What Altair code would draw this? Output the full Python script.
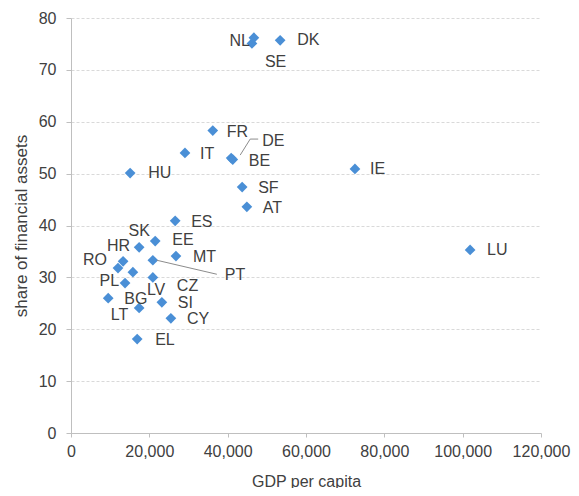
import altair as alt
import pandas as pd

# ---- data ----
countries = ["NL", "SE", "DK", "FR", "IT", "DE", "BE", "HU", "SF", "AT", "ES", "IE", "LU",
             "SK", "EE", "MT", "PT", "HR", "RO", "LV", "CZ", "PL", "BG", "SI", "LT", "CY", "EL"]
gdp_per_capita = [46200, 46700, 53400, 36200, 29100, 40900, 41300, 15100, 43700, 44900, 26600, 72500, 101900,
                  17400, 21500, 26800, 20900, 13300, 12000, 15800, 20900, 13800, 9500, 23200, 17400, 25500, 16900]
share_fin_assets = [75.1, 76.2, 75.7, 58.3, 54.0, 53.0, 52.7, 50.1, 47.4, 43.6, 40.9, 50.9, 35.3,
                    35.8, 37.0, 34.1, 33.3, 33.1, 31.8, 31.0, 30.0, 28.9, 26.0, 25.2, 24.1, 22.1, 18.1]
x_ticks = [0, 20000, 40000, 60000, 80000, 100000, 120000]
y_ticks = [0, 10, 20, 30, 40, 50, 60, 70, 80]

df = pd.DataFrame({"country": countries, "gdp": gdp_per_capita, "share": share_fin_assets})

# ---- label placement (style, pixel offsets) ----
DEFAULT = (16, 1, "left")
label_style = {
    "NL": (-2, -2, "right"), "SE": (11, 24, "left"), "DE": (31, -17, "left"),
    "PT": (72, 15, "left"), "SK": (0, -16, "center"), "HR": (7, -15, "right"),
    "RO": (-11, -8, "right"), "LV": (14, 18, "left"), "CZ": (24, 9, "left"),
    "PL": (-6, -2, "right"), "LT": (-11, 7, "right"), "FR": (14, 1, "left"),
    "IT": (15, 1, "left"), "HU": (18, 0, "left"), "EL": (18, 1, "left"),
    "DK": (17, 0, "left"), "IE": (15, 0, "left"), "LU": (17, 0, "left"),
    "MT": (17, 1, "left"), "EE": (17, -1, "left"),
}
leader_style = {
    "PT": [(4, 0, 64, 14)],
    "DE": [(9, -3, 19, -19), (19, -19, 27, -19)],
}

FONT = "Liberation Sans"
TXT = "#404040"

x_enc = alt.X("gdp:Q", scale=alt.Scale(domain=[0, 120000], nice=False, zero=True),
              axis=alt.Axis(values=x_ticks, format=",d", grid=False, title="GDP per capita",
                            labelFontSize=16, labelFont=FONT, labelColor=TXT,
                            titleFontSize=16, titleFont=FONT, titleColor=TXT, titleFontWeight="normal",
                            titlePadding=14, labelPadding=6, domainColor="#bfbfbf",
                            tickColor="#bfbfbf", tickSize=4, labelFlush=False))
y_enc = alt.Y("share:Q", scale=alt.Scale(domain=[0, 80], nice=False),
              axis=alt.Axis(values=y_ticks, grid=True, gridColor="#d9d9d9", gridDash=[3, 2],
                            title="share of financial assets",
                            labelFontSize=16, labelFont=FONT, labelColor=TXT,
                            titleFontSize=17, titleFont=FONT, titleColor=TXT, titleFontWeight="normal",
                            titlePadding=8, labelPadding=10, domainColor="#bfbfbf",
                            tickColor="#bfbfbf", tickSize=5))

base = alt.Chart(df)
layers = []

for c, segs in leader_style.items():
    for (xo, yo, x2o, y2o) in segs:
        layers.append(
            base.transform_filter(alt.datum.country == c)
            .mark_rule(color="#8c8c8c", strokeWidth=1, xOffset=xo, yOffset=yo, x2Offset=x2o, y2Offset=y2o)
            .encode(x=alt.X("gdp:Q"), x2=alt.X2("gdp"), y=alt.Y("share:Q"), y2=alt.Y2("share"))
        )

points = base.mark_point(shape="diamond", filled=True, size=115, color="#4a8fd6", opacity=1).encode(
    x=x_enc, y=y_enc)
layers.insert(0, points)

for c in countries:
    dx, dy, align = label_style.get(c, DEFAULT)
    layers.append(
        base.transform_filter(alt.datum.country == c)
        .mark_text(align=align, baseline="middle", dx=dx, dy=dy, fontSize=16, font=FONT, color=TXT)
        .encode(x=alt.X("gdp:Q"), y=alt.Y("share:Q"), text="country:N")
    )

chart = alt.layer(*layers).properties(
    width=470, height=415,
    padding={"left": 63, "top": 10, "right": 30, "bottom": 55},
    autosize=alt.AutoSizeParams(type="none"),
).configure_view(strokeWidth=0)

chart.save("out.html", embed_options={"renderer": "svg", "actions": False})
